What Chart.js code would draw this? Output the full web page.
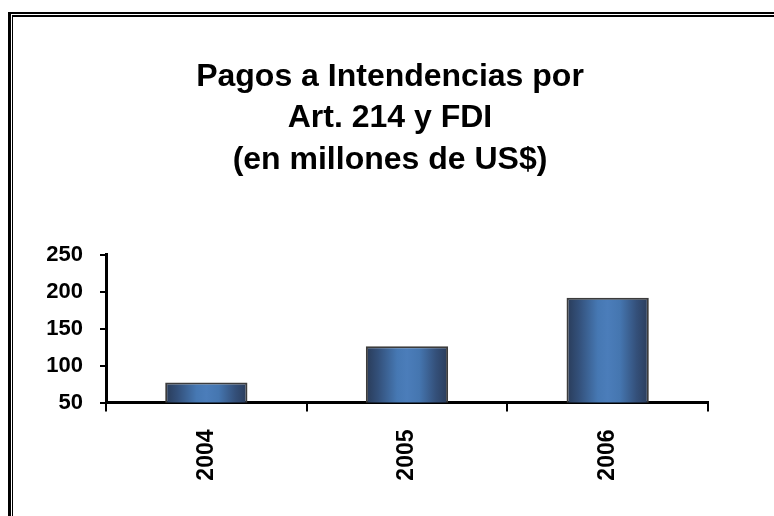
<!DOCTYPE html>
<html>
<head>
<meta charset="utf-8">
<script src="https://cdn.jsdelivr.net/npm/chart.js@4.4.1/dist/chart.umd.min.js"></script>
<style>
  html, body { margin: 0; padding: 0; background: #fff; overflow: hidden; }
  #marco { position: absolute; left: 8px; top: 12px; width: 900px; height: 700px;
           border-left: 3px solid #000; border-top: 2px solid #000; }
  #marco div { position: absolute; left: 1px; top: 1px; right: 0; bottom: 0;
               border-left: 1px solid #000; border-top: 2px solid #000; }
  #grafico { position: absolute; left: 0; top: 0; }
</style>
</head>
<body>
<div id="marco"><div></div></div>
<canvas id="grafico" width="774" height="516"></canvas>
<script>
const titulo = ['Pagos a Intendencias por', 'Art. 214 y FDI', '(en millones de US$)'];
const categorias = ['2004', '2005', '2006'];
const pagos = [77, 126, 192];
const ejeY = { min: 50, max: 250, paso: 50 };

const fuente = '"Liberation Sans", Arial, sans-serif';

// degradado tipo cilindro, uno por barra
function cilindro(c) {
  const chart = c.chart;
  const x = chart.scales.x;
  if (!x || c.dataIndex === undefined || !x.width) return '#4678b3';
  const centro = x.getPixelForValue(c.dataIndex);
  const ancho = (x.width / categorias.length) * 0.41;
  const g = chart.ctx.createLinearGradient(centro - ancho / 2, 0, centro + ancho / 2, 0);
  g.addColorStop(0, '#293b58');
  g.addColorStop(0.15, '#33507a');
  g.addColorStop(0.38, '#4678b3');
  g.addColorStop(0.5, '#4b7dba');
  g.addColorStop(0.65, '#4576b0');
  g.addColorStop(0.85, '#34507a');
  g.addColorStop(1, '#2a3c5a');
  return g;
}

new Chart(document.getElementById('grafico'), {
  type: 'bar',
  data: {
    labels: categorias,
    datasets: [{
      data: pagos,
      backgroundColor: cilindro,
      borderColor: '#3c3c3c',
      borderWidth: 2,
      borderSkipped: false,
      barPercentage: 0.41,
      categoryPercentage: 1
    }]
  },
  options: {
    responsive: false,
    animation: false,
    layout: { padding: { left: 6, top: 0, right: 0, bottom: 0 } },
    plugins: {
      legend: { display: false },
      tooltip: { enabled: false },
      title: {
        display: true,
        text: titulo,
        color: '#000',
        font: { family: fuente, size: 32, weight: 'bold', lineHeight: 1.3 },
        padding: { top: 56, bottom: 74 }
      }
    },
    scales: {
      x: {
        z: 1,
        grid: { display: true, drawOnChartArea: false, drawTicks: true, tickLength: 9, color: '#000', lineWidth: 2 },
        border: { display: true, color: '#000', width: 3 },
        ticks: { color: '#000', font: { family: fuente, size: 23, weight: 'bold' }, minRotation: 90, maxRotation: 90, padding: 18 },
        afterFit(scale) { scale.height = 113.5; }
      },
      y: {
        min: ejeY.min,
        max: ejeY.max,
        grid: { display: true, drawOnChartArea: false, drawTicks: true, tickLength: 6, color: '#000', lineWidth: 2 },
        border: { display: true, color: '#000', width: 3 },
        ticks: { stepSize: ejeY.paso, color: '#000', font: { family: fuente, size: 22, weight: 'bold' }, padding: 17 },
        afterFit(scale) { scale.width = 100; }
      },
      derecha: {
        position: 'right',
        display: true,
        grid: { display: false },
        border: { display: false },
        ticks: { display: false },
        afterFit(scale) { scale.width = 66; }
      }
    }
  }
});
</script>
</body>
</html>
